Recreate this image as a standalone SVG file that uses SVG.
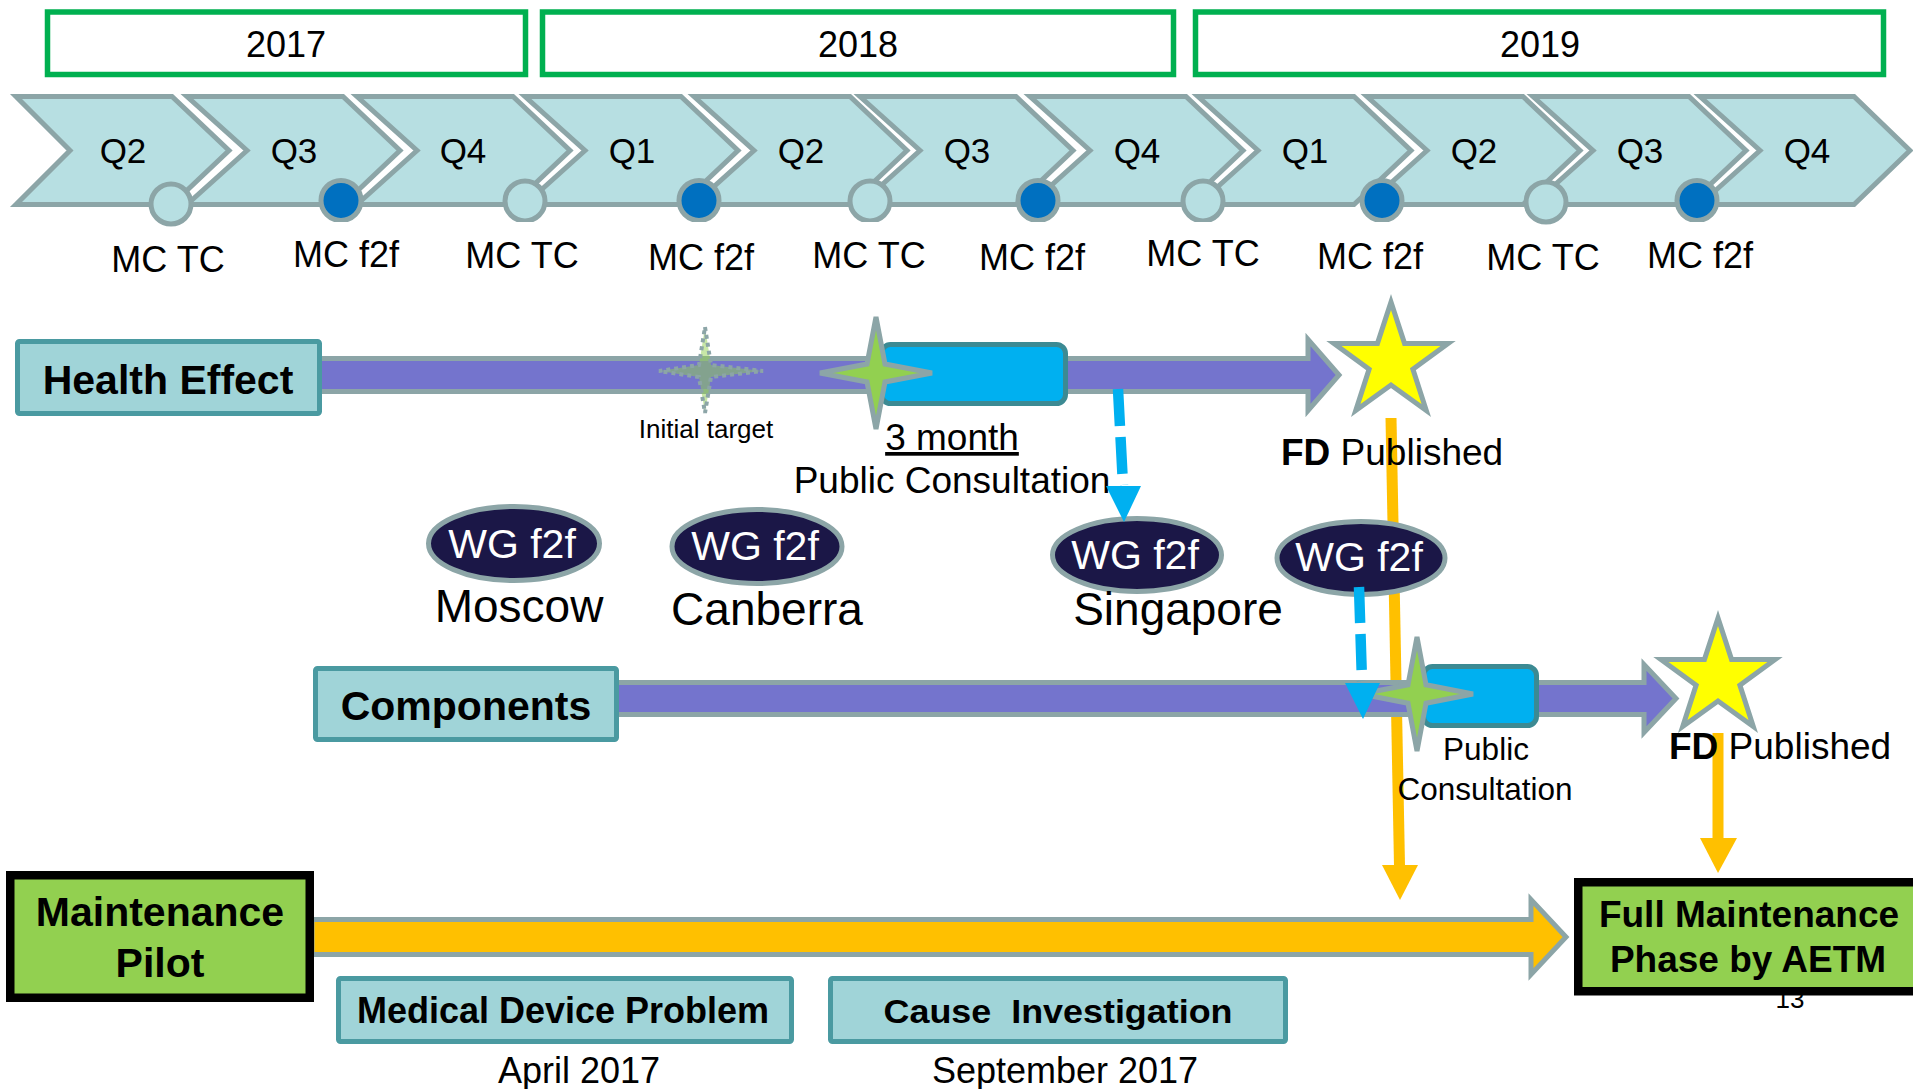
<svg xmlns="http://www.w3.org/2000/svg" width="1913" height="1089" viewBox="0 0 1913 1089">
<style>
text{font-family:"Liberation Sans",Arial,sans-serif;fill:#000}
.yr{fill:#fff;stroke:#00B050;stroke-width:5.5}
.yt{font-size:36px;text-anchor:middle}
.chev{fill:#B7DFE2;stroke:#8CA5A7;stroke-width:5}
.q{font-size:35px;text-anchor:middle}
.tc{fill:#B7DFE2;stroke:#8CA5A7;stroke-width:5}
.f2f{fill:#0070C0;stroke:#8CA5A7;stroke-width:5}
.mc{font-size:36px;text-anchor:middle}
.tbox{fill:#A0D4D8;stroke:#4A9AA1;stroke-width:5}
.bt{font-weight:bold;text-anchor:middle}
.pbar{fill:#7474CD;stroke:#8CA5A7;stroke-width:5}
.obar{fill:#FFC000;stroke:#8CA5A7;stroke-width:5}
.gbox{fill:#92D050;stroke:#000;stroke-width:8.5}
.brect{fill:#00B0F0;stroke:#3C8A93;stroke-width:5}
.ys{fill:#FFFF00;stroke:#8CA5A7;stroke-width:5}
.gs{fill:#92D050;stroke:#8CA5A7;stroke-width:5}
.ts{fill:#92D050;fill-opacity:0.5;stroke:#8CA5A7;stroke-width:4;stroke-dasharray:4 4}
.wg{fill:#1B1747;stroke:#8CA5A7;stroke-width:5}
.wgt{font-size:41px;fill:#fff;text-anchor:middle}
.city{font-size:46px;text-anchor:middle}
.lbl{font-size:37px;text-anchor:middle}
.bdash{stroke:#00B0F0;stroke-width:10.5;stroke-dasharray:37 11;fill:none}
.bhead{fill:#00B0F0}
.oline{stroke:#FFC000;stroke-width:11;fill:none}
.ohead{fill:#FFC000}
</style>
<defs>
<path id="star5" d="M0,-60 L13.52,-18.61 L57.07,-18.54 L21.87,7.11 L35.27,48.54 L0,23 L-35.27,48.54 L-21.87,7.11 L-57.07,-18.54 L-13.52,-18.61 Z"/>
<path id="star4" d="M0,-56 L9,-9 L56,0 L9,9 L0,56 L-9,9 L-56,0 L-9,-9 Z"/>
<clipPath id="cbot"><rect x="0" y="0" width="1913" height="222"/></clipPath>
</defs>

<g id="years">
<rect class="yr" x="47.5" y="12" width="478" height="62.5"/>
<text class="yt" x="286" y="57">2017</text>
<rect class="yr" x="542.5" y="12" width="631" height="62.5"/>
<text class="yt" x="858" y="57">2018</text>
<rect class="yr" x="1195.5" y="12" width="688" height="62.5"/>
<text class="yt" x="1540" y="57">2019</text>
</g>

<g id="quarters">
<polygon class="chev" points="16,96.5 172,96.5 229,150.5 172,204.5 16,204.5 70,150.5"/>
<polygon class="chev" points="187,96.5 343,96.5 400,150.5 343,204.5 187,204.5 247,150.5"/>
<polygon class="chev" points="357,96.5 513,96.5 570,150.5 513,204.5 357,204.5 417,150.5"/>
<polygon class="chev" points="525,96.5 681,96.5 738,150.5 681,204.5 525,204.5 585,150.5"/>
<polygon class="chev" points="694,96.5 850,96.5 907,150.5 850,204.5 694,204.5 754,150.5"/>
<polygon class="chev" points="860,96.5 1016,96.5 1073,150.5 1016,204.5 860,204.5 920,150.5"/>
<polygon class="chev" points="1030,96.5 1186,96.5 1243,150.5 1186,204.5 1030,204.5 1090,150.5"/>
<polygon class="chev" points="1198,96.5 1354,96.5 1411,150.5 1354,204.5 1198,204.5 1258,150.5"/>
<polygon class="chev" points="1367,96.5 1523,96.5 1580,150.5 1523,204.5 1367,204.5 1427,150.5"/>
<polygon class="chev" points="1533,96.5 1689,96.5 1746,150.5 1689,204.5 1533,204.5 1593,150.5"/>
<polygon class="chev" points="1700,96.5 1854,96.5 1910,150.5 1854,204.5 1700,204.5 1760,150.5"/>
<text class="q" x="123" y="163">Q2</text>
<text class="q" x="294" y="163">Q3</text>
<text class="q" x="463" y="163">Q4</text>
<text class="q" x="632" y="163">Q1</text>
<text class="q" x="801" y="163">Q2</text>
<text class="q" x="967" y="163">Q3</text>
<text class="q" x="1137" y="163">Q4</text>
<text class="q" x="1305" y="163">Q1</text>
<text class="q" x="1474" y="163">Q2</text>
<text class="q" x="1640" y="163">Q3</text>
<text class="q" x="1807" y="163">Q4</text>
</g>

<g id="meetings">
<circle class="tc" cx="171" cy="204" r="20"/>
<g clip-path="url(#cbot)">
<circle class="f2f" cx="341" cy="200.5" r="20"/>
<circle class="tc" cx="525" cy="201" r="20"/>
<circle class="f2f" cx="699" cy="200.5" r="20"/>
<circle class="tc" cx="870" cy="201" r="20"/>
<circle class="f2f" cx="1038" cy="200.5" r="20"/>
<circle class="tc" cx="1203" cy="201" r="20"/>
<circle class="f2f" cx="1382" cy="200.5" r="20"/>
<circle class="f2f" cx="1697" cy="200.5" r="20"/>
</g>
<circle class="tc" cx="1546" cy="202" r="20"/>
<text class="mc" x="168" y="272">MC TC</text>
<text class="mc" x="346" y="267">MC f2f</text>
<text class="mc" x="522" y="268">MC TC</text>
<text class="mc" x="701" y="270">MC f2f</text>
<text class="mc" x="869" y="268">MC TC</text>
<text class="mc" x="1032" y="270">MC f2f</text>
<text class="mc" x="1203" y="266">MC TC</text>
<text class="mc" x="1370" y="269">MC f2f</text>
<text class="mc" x="1543" y="270">MC TC</text>
<text class="mc" x="1700" y="268">MC f2f</text>
</g>

<g id="connectors-back">
<line class="oline" x1="1391" y1="418" x2="1399.5" y2="866"/>
<polygon class="ohead" points="1382,865 1418,865 1400,900"/>
<line class="oline" x1="1718" y1="733" x2="1718" y2="839"/>
<polygon class="ohead" points="1700,838 1737,838 1718,873"/>
</g>

<g id="health-effect">
<polygon class="pbar" points="316,358.5 1308,358.5 1308,339.5 1339,375 1308,410.5 1308,391.5 316,391.5"/>
<path class="ts" d="M705,327 L711,365 L763,371 L711,377 L705,413 L699,377 L659,371 L699,365 Z"/>
<rect class="brect" x="881.5" y="344.5" width="184" height="59" rx="9"/>
<use href="#star4" class="gs" transform="translate(876,373)"/>
<use href="#star5" class="ys" transform="translate(1391,362)"/>
<rect class="tbox" x="17.5" y="341.5" width="302" height="72" rx="2"/>
<text class="bt" x="168" y="394" style="font-size:41px">Health Effect</text>
<text x="706" y="438" style="font-size:26px;text-anchor:middle">Initial target</text>
<text class="lbl" x="952" y="450" style="text-decoration:underline">3 month</text>
<text class="lbl" x="952" y="493">Public Consultation</text>
<text x="1281" y="465" style="font-size:37px"><tspan font-weight="bold">FD</tspan> Published</text>
</g>

<g id="components">
<polygon class="pbar" points="614,682.5 1644,682.5 1644,664.5 1676,698.5 1644,732.5 1644,714.5 614,714.5"/>
<rect class="brect" x="1423.5" y="666.5" width="113" height="59" rx="9"/>
<use href="#star4" class="gs" transform="translate(1417,694) scale(1,1.02)"/>
<use href="#star5" class="ys" transform="translate(1718,678)"/>
<rect class="tbox" x="315.5" y="668.5" width="301" height="71" rx="2"/>
<text class="bt" x="466" y="720" style="font-size:41px">Components</text>
<text x="1486" y="760" style="font-size:31.5px;text-anchor:middle">Public</text>
<text x="1485" y="800" style="font-size:31.5px;text-anchor:middle">Consultation</text>
<text x="1669" y="759" style="font-size:37px"><tspan font-weight="bold">FD</tspan> Published</text>
</g>

<g id="wg-moscow">
<ellipse class="wg" cx="514" cy="543.5" rx="85.5" ry="37"/>
<text class="wgt" x="512" y="558">WG f2f</text>
<text class="city" x="519" y="622">Moscow</text>
</g>
<g id="wg-canberra">
<ellipse class="wg" cx="757" cy="546.5" rx="85" ry="37"/>
<text class="wgt" x="755" y="560">WG f2f</text>
<text class="city" x="767" y="625">Canberra</text>
</g>
<g id="wg-singapore">
<ellipse class="wg" cx="1137" cy="555" rx="84.5" ry="36.5"/>
<text class="wgt" x="1135" y="569">WG f2f</text>
<text class="city" x="1178" y="625">Singapore</text>
</g>
<g id="wg-4">
<ellipse class="wg" cx="1361" cy="558" rx="84" ry="36.5"/>
<text class="wgt" x="1359" y="571">WG f2f</text>
</g>

<g id="connectors">
<line class="bdash" x1="1118" y1="389" x2="1123" y2="485"/>
<polygon class="bhead" points="1106,486 1141,486 1124,522"/>
<line class="bdash" x1="1359" y1="587" x2="1362" y2="681" style="stroke-dasharray:36 11"/>
<polygon class="bhead" points="1345,683 1380,683 1363,719"/>
</g>

<g id="maintenance">
<polygon class="obar" points="312,919.5 1531,919.5 1531,899.5 1566,937 1531,974.5 1531,954.5 312,954.5"/>
<rect class="gbox" x="10.25" y="875.25" width="299.5" height="122.5"/>
<text class="bt" x="160" y="926" style="font-size:41px">Maintenance</text>
<text class="bt" x="160" y="977" style="font-size:41px">Pilot</text>
</g>

<g id="full-maintenance">
<text x="1790" y="1008" style="font-size:26px;text-anchor:middle">13</text>
<rect class="gbox" x="1578.25" y="882.25" width="400" height="109"/>
<text class="bt" x="1749" y="927" style="font-size:37px">Full Maintenance</text>
<text class="bt" x="1748" y="972" style="font-size:37px">Phase by AETM</text>
</g>

<g id="medical-device-problem">
<rect class="tbox" x="338.5" y="978.5" width="453" height="63" rx="2"/>
<text class="bt" x="563" y="1023" style="font-size:36px">Medical Device Problem</text>
<text x="579" y="1083" style="font-size:36px;text-anchor:middle">April 2017</text>
</g>

<g id="cause-investigation">
<rect class="tbox" x="830.5" y="978.5" width="455" height="63" rx="2"/>
<text class="bt" x="1058" y="1023" xml:space="preserve" style="font-size:34px" textLength="349" lengthAdjust="spacingAndGlyphs">Cause  Investigation</text>
<text x="1065" y="1083" style="font-size:36px;text-anchor:middle">September 2017</text>
</g>
</svg>
